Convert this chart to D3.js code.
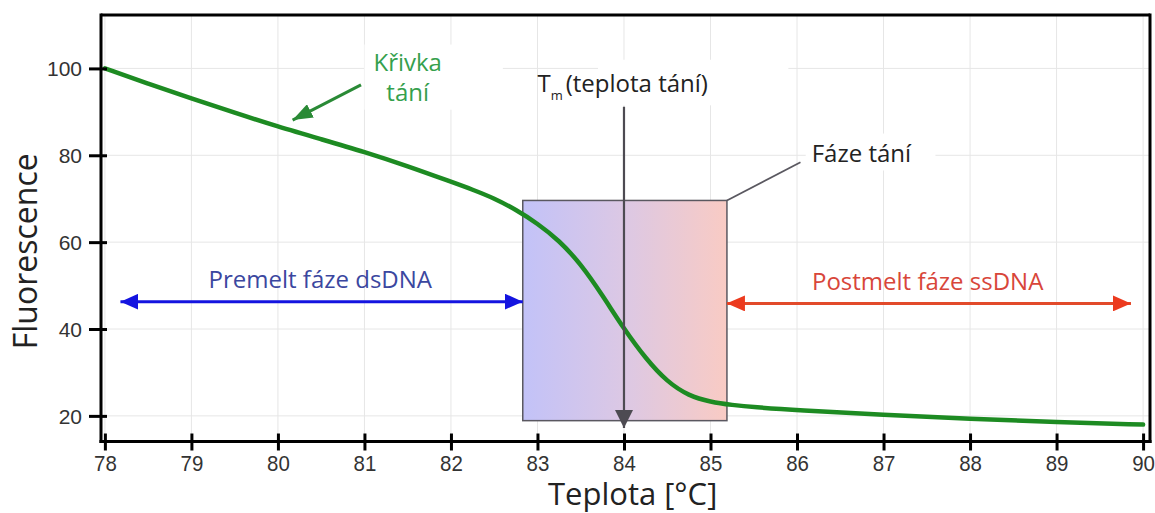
<!DOCTYPE html>
<html>
<head>
<meta charset="utf-8">
<script src="https://cdn.jsdelivr.net/npm/d3@7/dist/d3.min.js"></script>
<style>
  html, body { margin: 0; padding: 0; background: #fff; }
  svg { display: block; }
</style>
</head>
<body>
<svg id="chart" width="1155" height="513"></svg>
<script>
// ---- data ----
const temps = [78, 78.5, 79, 79.5, 80, 80.5, 81, 81.5, 82, 82.25, 82.5, 82.75, 83, 83.25, 83.5, 83.75, 84, 84.25, 84.5, 84.75, 85, 85.25, 85.5, 86, 87, 88, 89, 90];
const fluor = [100, 96.5, 93.1, 89.8, 86.6, 83.7, 80.8, 77.5, 73.9, 72.1, 70.1, 67.5, 64.3, 60.4, 55.0, 47.8, 40, 33.2, 27.8, 24.6, 23.2, 22.5, 22.0, 21.3, 20.2, 19.3, 18.6, 18];
const xTicks = [78, 79, 80, 81, 82, 83, 84, 85, 86, 87, 88, 89, 90];
const yTicks = [20, 40, 60, 80, 100];
const xDomain = [77.955, 90.08];
const yDomain = [14.1, 112.3];

// annotation values (data units)
const meltPhase = [82.83, 85.19];      // temperature range of the melt phase
const meltFluor = [18.9, 69.6];        // fluorescence range of the box
const tmValue = 84;
const tmArrow = [91.2, 17.2];
const premelt = [78.18, 82.83, 46.3];
const postmelt = [85.19, 89.86, 45.9];

const x = d3.scaleLinear().domain(xDomain).range([101, 1150]);
const y = d3.scaleLinear().domain(yDomain).range([441.5, 15]);

const svg = d3.select("#chart");
const FONT = "'Open Sans', 'Noto Sans', sans-serif";
const TICKFONT = "'Liberation Sans', Arial, sans-serif";

const defs = svg.append("defs");
const grad = defs.append("linearGradient").attr("id", "meltGrad")
  .attr("x1", "0%").attr("x2", "100%").attr("y1", "0%").attr("y2", "0%");
grad.append("stop").attr("offset", "0%").attr("stop-color", "#c2c2f8");
grad.append("stop").attr("offset", "50%").attr("stop-color", "#dcc8e4");
grad.append("stop").attr("offset", "100%").attr("stop-color", "#f9cbc4");

function marker(id, color, w, h) {
  defs.append("marker").attr("id", id)
    .attr("viewBox", `0 0 ${w} ${h}`).attr("refX", w).attr("refY", h / 2)
    .attr("markerWidth", w).attr("markerHeight", h)
    .attr("markerUnits", "userSpaceOnUse").attr("orient", "auto-start-reverse")
    .append("path").attr("d", `M0,0L${w},${h/2}L0,${h}Z`).attr("fill", color);
}
marker("arrBlue", "#1414e0", 18, 16);
marker("arrRed", "#ec3a1e", 18, 16);
marker("arrGray", "#4d4b52", 18, 18);
marker("arrGreen", "#2a8a36", 20, 15);

// ---- grid ----
const grid = svg.append("g").attr("stroke", "#e6e6e6").attr("stroke-width", 1);
grid.selectAll("line.v").data(xTicks).join("line").attr("class", "v")
  .attr("x1", d => x(d)).attr("x2", d => x(d)).attr("y1", y(yDomain[1])).attr("y2", y(yDomain[0]));
grid.selectAll("line.h").data(yTicks).join("line").attr("class", "h")
  .attr("x1", x(xDomain[0])).attr("x2", x(xDomain[1])).attr("y1", d => y(d)).attr("y2", d => y(d));

// white patches behind labels (as in the original image)
const patches = svg.append("g").attr("fill", "#fff");
patches.append("rect").attr("x", x(83.7)).attr("y", y(102)).attr("width", x(85.9) - x(83.7)).attr("height", y(91.5) - y(102));
patches.append("rect").attr("x", x(81.0)).attr("y", y(105.5)).attr("width", x(82.6) - x(81.0)).attr("height", y(90.5) - y(105.5));
patches.append("rect").attr("x", x(86.1)).attr("y", y(85)).attr("width", x(87.6) - x(86.1)).attr("height", y(76.5) - y(85));

// ---- melt phase box ----
svg.append("rect")
  .attr("x", x(meltPhase[0])).attr("y", y(meltFluor[1]))
  .attr("width", x(meltPhase[1]) - x(meltPhase[0]))
  .attr("height", y(meltFluor[0]) - y(meltFluor[1]))
  .attr("fill", "url(#meltGrad)").attr("stroke", "#5a5860").attr("stroke-width", 1.5);

// ---- curve ----
const line = d3.line().x((d, i) => x(temps[i])).y(d => y(d)).curve(d3.curveBasis);
svg.append("path").datum(fluor).attr("d", line)
  .attr("fill", "none").attr("stroke", "#1d8b22").attr("stroke-width", 4.5)
  .attr("stroke-linecap", "round");

// ---- Tm arrow ----
svg.append("line")
  .attr("x1", x(tmValue)).attr("x2", x(tmValue))
  .attr("y1", y(tmArrow[0])).attr("y2", y(tmArrow[1]))
  .attr("stroke", "#4d4b52").attr("stroke-width", 2.2)
  .attr("marker-end", "url(#arrGray)");

// ---- premelt / postmelt arrows ----
svg.append("line")
  .attr("x1", x(premelt[0])).attr("x2", x(premelt[1]))
  .attr("y1", y(premelt[2])).attr("y2", y(premelt[2]))
  .attr("stroke", "#1414e0").attr("stroke-width", 3)
  .attr("marker-start", "url(#arrBlue)").attr("marker-end", "url(#arrBlue)");
svg.append("line")
  .attr("x1", x(postmelt[0])).attr("x2", x(postmelt[1]))
  .attr("y1", y(postmelt[2])).attr("y2", y(postmelt[2]))
  .attr("stroke", "#e24a2a").attr("stroke-width", 3)
  .attr("marker-start", "url(#arrRed)").attr("marker-end", "url(#arrRed)");

// ---- Křivka tání arrow ----
svg.append("line")
  .attr("x1", x(80.96)).attr("y1", y(96.2))
  .attr("x2", x(80.17)).attr("y2", y(88.1))
  .attr("stroke", "#2a8a36").attr("stroke-width", 3)
  .attr("marker-end", "url(#arrGreen)");

// ---- Fáze tání leader ----
svg.append("line")
  .attr("x1", x(meltPhase[1])).attr("y1", y(meltFluor[1]))
  .attr("x2", x(86.04)).attr("y2", y(78.4))
  .attr("stroke", "#5a5860").attr("stroke-width", 1.8);

// ---- frame & axes ----
const frame = svg.append("g").attr("fill", "none").attr("stroke", "#000").attr("stroke-width", 3);
frame.append("line").attr("x1", x(xDomain[0])).attr("x2", x(xDomain[1])).attr("y1", y(yDomain[1])).attr("y2", y(yDomain[1]));
frame.append("line").attr("x1", x(xDomain[1])).attr("x2", x(xDomain[1])).attr("y1", y(yDomain[1]) - 1.5).attr("y2", y(yDomain[0]) + 1.5);

const xAxis = svg.append("g").attr("transform", `translate(0,${y(yDomain[0])})`)
  .call(d3.axisBottom(x).tickValues(xTicks).tickFormat(d3.format("d")).tickSizeOuter(0).tickSizeInner(9).tickPadding(5));
xAxis.select(".domain").attr("stroke", "#000").attr("stroke-width", 3).attr("d", `M${x(xDomain[0]) - 1.5},0H${x(xDomain[1]) + 1.5}`);
xAxis.selectAll(".tick line").attr("stroke", "#000").attr("stroke-width", 3).attr("y1", -8).attr("y2", 9);
xAxis.selectAll(".tick text").attr("font-family", TICKFONT)
  .attr("font-size", 22).attr("fill", "#333")
  .style("transform-box", "fill-box").style("transform-origin", "center").style("transform", "scaleX(0.93)");

const yAxis = svg.append("g").attr("transform", `translate(${x(xDomain[0])},0)`)
  .call(d3.axisLeft(y).tickValues(yTicks).tickSizeOuter(0).tickSizeInner(12).tickPadding(7));
yAxis.select(".domain").attr("stroke", "#000").attr("stroke-width", 3).attr("d", `M0,${y(yDomain[1]) - 1.5}V${y(yDomain[0]) + 1.5}`);
yAxis.selectAll(".tick line").attr("stroke", "#000").attr("stroke-width", 3).attr("x1", -12).attr("x2", 6);
yAxis.selectAll(".tick text").attr("font-family", TICKFONT)
  .attr("font-size", 21).attr("fill", "#333").attr("dy", "0.36em");

// ---- axis titles ----
svg.append("text").attr("transform", `translate(37,${y(57.9)}) rotate(-90)`)
  .attr("text-anchor", "middle").attr("font-family", FONT).attr("font-size", 32).attr("fill", "#222")
  .text("Fluorescence");
svg.append("text").attr("x", x(84.1)).attr("y", 505)
  .attr("text-anchor", "middle").attr("font-family", FONT).attr("font-size", 31).attr("fill", "#222")
  .text("Teplota [°C]");

// ---- annotation labels ----
const krivka = svg.append("text").attr("text-anchor", "middle").attr("font-family", FONT)
  .attr("font-size", 24).attr("fill", "#35a04d");
krivka.append("tspan").attr("x", x(81.5)).attr("y", y(99.3)).text("Křivka");
krivka.append("tspan").attr("x", x(81.5)).attr("y", y(92.4)).text("tání");

const tm = svg.append("text").attr("x", x(83.0)).attr("y", y(94.6))
  .attr("font-family", FONT).attr("font-size", 24).attr("fill", "#222");
tm.append("tspan").text("T");
tm.append("tspan").attr("font-size", 13).attr("dy", 8).text("m");
tm.append("tspan").attr("dy", -8).attr("dx", 3).text("(teplota tání)");

svg.append("text").attr("x", x(86.17)).attr("y", y(78.5))
  .attr("font-family", FONT).attr("font-size", 24).attr("fill", "#222")
  .text("Fáze tání");

svg.append("text").attr("x", x(80.49)).attr("y", y(49.5)).attr("text-anchor", "middle")
  .attr("font-family", FONT).attr("font-size", 24).attr("fill", "#3b479f")
  .text("Premelt fáze dsDNA");
svg.append("text").attr("x", x(87.51)).attr("y", y(49.0)).attr("text-anchor", "middle")
  .attr("font-family", FONT).attr("font-size", 24).attr("fill", "#d8463a")
  .text("Postmelt fáze ssDNA");
</script>
</body>
</html>
